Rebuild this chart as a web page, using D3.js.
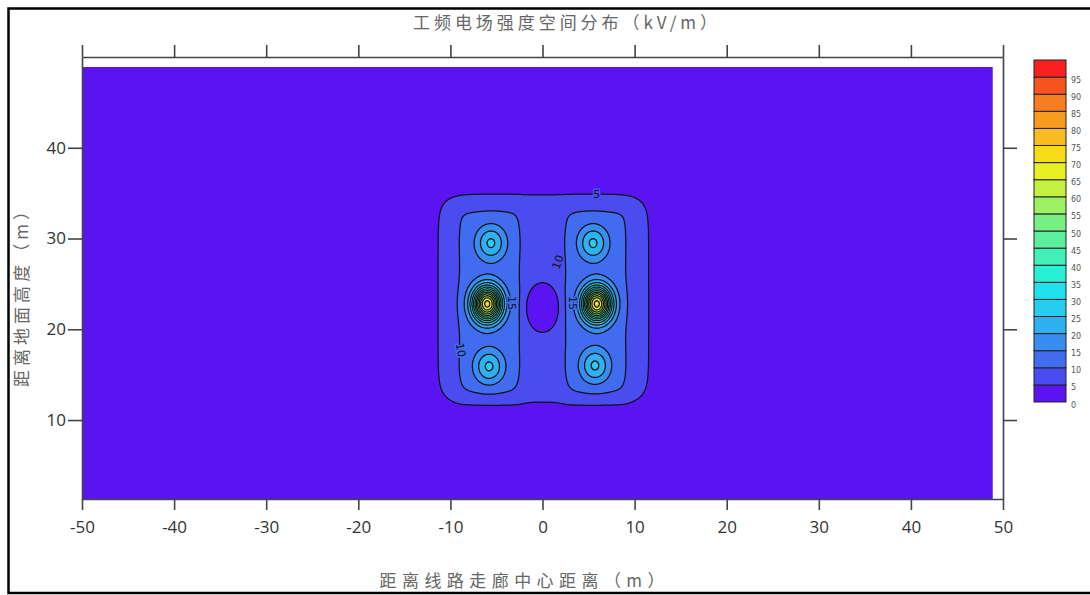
<!DOCTYPE html>
<html>
<head>
<meta charset="utf-8">
<script src="https://cdn.jsdelivr.net/npm/d3@7"></script>
<style>
body { margin: 0; background: #fff; }
</style>
</head>
<body>
<svg id="chart"></svg>
<script>
//页面大小
var width = 1090;
var height = 595;

//坐标轴刻度
var xTicks = [-50, -40, -30, -20, -10, 0, 10, 20, 30, 40, 50];
var yTicks = [10, 20, 30, 40];

//等值线分级 kV/m，及每级颜色
var levels = [0, 5, 10, 15, 20, 25, 30, 35, 40, 45, 50, 55, 60, 65, 70, 75, 80, 85, 90, 95];
var levelColors = ["#5a14f2", "#4a4cf0", "#416cf0", "#388ef0", "#2fb0f0", "#26cdf0",
	"#20e2ee", "#28f0d4", "#40f0b8", "#5cf09c", "#78f084", "#9cf064", "#c4f040",
	"#e8f024", "#f8dc18", "#f8bc20", "#f89c20", "#f87c20", "#f85420", "#f82020"];

//导线位置及该处场强峰值
var conductorX = [-5.6, -6.0, -5.8, 5.5, 5.9, 5.7];
var conductorY = [29.5, 22.8, 15.9, 29.5, 22.8, 16.0];
var conductorPeak = [26, 72, 26, 26, 72, 26];
var spreadX = [1.1, 1.08, 1.1, 1.1, 1.08, 1.1];
var spreadY = [1.3, 1.35, 1.3, 1.3, 1.35, 1.3];

//场强 >5 与 >10 kV/m 的区域边界
var zoneLeft = [-12.0, -9.4, 2.3];
var zoneRight = [12.2, -2.3, 9.4];
var zoneBottom = [11.3, 12.4, 12.4];
var zoneTop = [35.5, 33.4, 33.4];
var zoneRise = [7.5, 4.0, 4.0];
var zoneSoft = [1.0, 0.45, 0.45];

//中心低场强区
var holeX = 0, holeY = 22.4, holeRX = 1.9, holeRY = 2.75, holeDepth = 6.8;

//等值线标注
var labelText = ["5", "10", "10", "15", "15"];
var labelX = [5.9, 1.7, -8.9, -3.4, 3.3];
var labelY = [34.8, 27.4, 17.7, 22.9, 22.9];
var labelAngle = [0, -70, 80, 90, 90];

//数据网格范围
var xMin = -50, xMax = 48.9, yMin = 1.3, yMax = 48.9, step = 0.1;

function sig(t, w) { return 1 / (1 + Math.exp(-t / w)); }
function plateau(x, y) {
	var v = 0;
	for (var k = 0; k < zoneRise.length; k++) {
		var w = zoneSoft[k];
		v += zoneRise[k] * sig(x - zoneLeft[k], w) * sig(zoneRight[k] - x, w)
			* sig(y - zoneBottom[k], w) * sig(zoneTop[k] - y, w);
	}
	return v;
}
var amp = conductorPeak.map(function (p, i) {
	return p - plateau(conductorX[i], conductorY[i]);
});
function field(x, y) {
	var v = plateau(x, y);
	var q = Math.pow((x - holeX) / holeRX, 2) + Math.pow((y - holeY) / holeRY, 2);
	v -= holeDepth * Math.exp(-q * q);
	for (var i = 0; i < conductorX.length; i++) {
		var dx = (x - conductorX[i]) / spreadX[i], dy = (y - conductorY[i]) / spreadY[i];
		v += amp[i] * Math.exp(-(dx * dx + dy * dy) / 2);
	}
	return v;
}

var svg = d3.select("#chart").attr("width", width).attr("height", height);

var xScale = d3.scaleLinear().domain([-50, 50]).range([82, 1003]);
var yScale = d3.scaleLinear().domain([1.3, 50]).range([499, 57]);

//网格数据
var nx = Math.round((xMax - xMin) / step) + 1;
var ny = Math.round((yMax - yMin) / step) + 1;
var values = new Array(nx * ny);
for (var j = 0; j < ny; j++) {
	for (var i = 0; i < nx; i++) {
		values[j * nx + i] = field(xMin + i * step, yMin + j * step);
	}
}

svg.append("defs").append("clipPath").attr("id", "plotClip")
	.append("rect")
	.attr("x", xScale(xMin)).attr("y", yScale(yMax))
	.attr("width", xScale(xMax) - xScale(xMin))
	.attr("height", yScale(yMin) - yScale(yMax));

var plot = svg.append("g").attr("clip-path", "url(#plotClip)");
plot.append("rect")
	.attr("x", xScale(xMin)).attr("y", yScale(yMax))
	.attr("width", xScale(xMax) - xScale(xMin))
	.attr("height", yScale(yMin) - yScale(yMax))
	.attr("fill", levelColors[0]);

var contours = d3.contours().size([nx, ny]).thresholds(levels.slice(1))(values);
var proj = d3.geoTransform({
	point: function (px, py) {
		this.stream.point(xScale(xMin + (px - 0.5) * step), yScale(yMin + (py - 0.5) * step));
	}
});
var path = d3.geoPath(proj);

plot.append("g").selectAll("path")
	.data(contours)
	.enter().append("path")
	.attr("d", path)
	.attr("fill", function (d) { return levelColors[levels.indexOf(d.value)]; });

plot.append("g").selectAll("path")
	.data(contours)
	.enter().append("path")
	.attr("d", path)
	.attr("fill", "none")
	.attr("stroke", "#111")
	.attr("stroke-width", 1.25);

//等值线标注
plot.append("g").selectAll("text")
	.data(labelText)
	.enter().append("text")
	.attr("transform", function (d, i) {
		return "translate(" + xScale(labelX[i]) + "," + yScale(labelY[i]) + ") rotate(" + labelAngle[i] + ")";
	})
	.attr("text-anchor", "middle")
	.attr("dominant-baseline", "central")
	.attr("font-family", "DejaVu Sans, sans-serif")
	.attr("font-size", 11)
	.attr("fill", "#111")
	.attr("stroke", function (d, i) {
		var f = field(labelX[i], labelY[i]);
		return levelColors[Math.max(0, Math.min(19, Math.floor(f / 5)))];
	})
	.attr("stroke-width", 3)
	.attr("paint-order", "stroke")
	.text(function (d) { return d; });

//坐标轴
function styleAxis(g) {
	g.select(".domain").attr("stroke", "#444").attr("stroke-width", 1.6);
	g.selectAll(".tick line").attr("stroke", "#444").attr("stroke-width", 1.6);
	g.selectAll(".tick text").attr("fill", "#333").style("font-family", "Open Sans, sans-serif").style("font-size", "17px");
}
var plainNum = function (d) { return String(d); };
svg.append("g").attr("transform", "translate(0," + yScale(1.3) + ")")
	.call(d3.axisBottom(xScale).tickValues(xTicks).tickSize(11).tickSizeOuter(0).tickPadding(11).tickFormat(plainNum))
	.call(styleAxis);
svg.append("g").attr("transform", "translate(0," + yScale(50) + ")")
	.call(d3.axisTop(xScale).tickValues(xTicks).tickSize(12).tickSizeOuter(0).tickFormat(""))
	.call(styleAxis);
svg.append("g").attr("transform", "translate(" + xScale(-50) + ",0)")
	.call(d3.axisLeft(yScale).tickValues(yTicks).tickSize(14).tickSizeOuter(0).tickPadding(2).tickFormat(plainNum))
	.call(styleAxis);
svg.append("g").attr("transform", "translate(" + xScale(50) + ",0)")
	.call(d3.axisRight(yScale).tickValues(yTicks).tickSize(14).tickSizeOuter(0).tickFormat(""))
	.call(styleAxis);

//色标
var legendScale = d3.scaleLinear().domain([0, 100]).range([402, 60]);
var legend = svg.append("g");
legend.selectAll("rect")
	.data(levels)
	.enter().append("rect")
	.attr("x", 1034)
	.attr("y", function (d) { return legendScale(d + 5); })
	.attr("width", 32)
	.attr("height", function (d) { return legendScale(d) - legendScale(d + 5); })
	.attr("fill", function (d, i) { return levelColors[i]; })
	.attr("stroke", "#222")
	.attr("stroke-width", 1);
legend.selectAll("text")
	.data(levels)
	.enter().append("text")
	.attr("x", 1071)
	.attr("y", function (d) { return legendScale(d) + 3; })
	.attr("dominant-baseline", "central")
	.attr("font-family", "DejaVu Sans, sans-serif")
	.attr("font-size", 8)
	.attr("fill", "#555")
	.text(function (d) { return d; });

//标题
var cjk = "Noto Sans CJK SC, sans-serif";
svg.append("text")
	.attr("x", 565).attr("y", 21)
	.attr("text-anchor", "middle").attr("dominant-baseline", "central")
	.attr("font-family", cjk).attr("font-size", 17).attr("fill", "#666")
	.attr("textLength", 304).attr("lengthAdjust", "spacing")
	.text("工频电场强度空间分布（kV/m）");
svg.append("text")
	.attr("x", 522).attr("y", 579)
	.attr("text-anchor", "middle").attr("dominant-baseline", "central")
	.attr("font-family", cjk).attr("font-size", 17).attr("fill", "#666")
	.attr("textLength", 285).attr("lengthAdjust", "spacing")
	.text("距离线路走廊中心距离（m）");
svg.append("text")
	.attr("transform", "translate(20,295) rotate(-90)")
	.attr("text-anchor", "middle").attr("dominant-baseline", "central")
	.attr("font-family", cjk).attr("font-size", 17).attr("fill", "#666")
	.attr("textLength", 184).attr("lengthAdjust", "spacing")
	.text("距离地面高度（m）");

//外框
svg.append("rect")
	.attr("x", 8.5).attr("y", 8.5)
	.attr("width", 1100).attr("height", 584.5)
	.attr("fill", "none").attr("stroke", "#000").attr("stroke-width", 2.5);
</script>
</body>
</html>
